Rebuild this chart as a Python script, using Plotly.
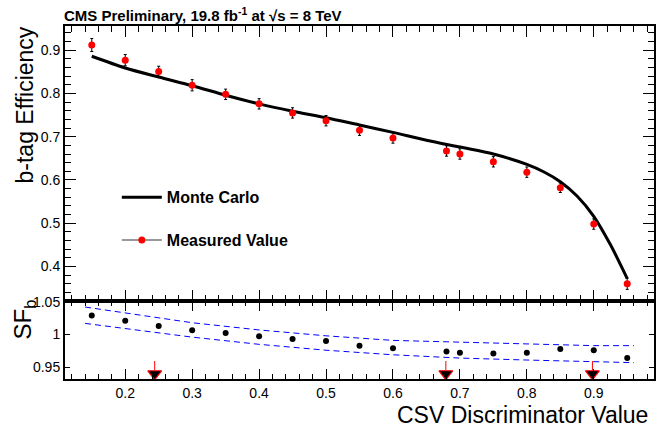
import plotly.graph_objects as go

# CSV discriminator working points where efficiency / scale factor were measured
csv_points = [0.15, 0.20, 0.25, 0.30, 0.35, 0.40, 0.45, 0.50, 0.55, 0.60,
              0.68, 0.70, 0.75, 0.80, 0.85, 0.90, 0.95]
eff_measured = [0.912, 0.877, 0.851, 0.819, 0.798, 0.776, 0.755, 0.737, 0.715,
                0.697, 0.667, 0.660, 0.642, 0.618, 0.582, 0.498, 0.360]
eff_err = [0.015, 0.013, 0.012, 0.013, 0.012, 0.012, 0.012, 0.012, 0.012,
           0.012, 0.012, 0.012, 0.012, 0.012, 0.011, 0.012, 0.013]

# Monte Carlo efficiency curve
mc_csv = [0.15, 0.20, 0.25, 0.30, 0.35, 0.40, 0.45, 0.50, 0.55, 0.60, 0.65,
          0.70, 0.75, 0.80, 0.825, 0.85, 0.875, 0.90, 0.925, 0.95]
mc_eff = [0.886, 0.859, 0.838, 0.818, 0.796, 0.776, 0.759, 0.744, 0.727, 0.710,
          0.692, 0.676, 0.660, 0.636, 0.619, 0.596, 0.563, 0.516, 0.450, 0.372]

# Data/MC scale factor SF_b
sf_b = [1.029, 1.021, 1.013, 1.0065, 1.0025, 0.9975, 0.993, 0.990, 0.983,
        0.979, 0.974, 0.972, 0.971, 0.972, 0.978, 0.976, 0.964]

# Uncertainty band on the SF fit
band_csv = [0.14, 0.20, 0.30, 0.40, 0.50, 0.60, 0.70, 0.80, 0.90, 0.96]
band_up = [1.042, 1.033, 1.018, 1.007, 0.998, 0.991, 0.988, 0.985, 0.983, 0.983]
band_dn = [1.017, 1.009, 0.996, 0.985, 0.976, 0.969, 0.964, 0.961, 0.958, 0.957]

# Standard operating points (loose / medium / tight)
op_points = [0.244, 0.679, 0.898]

x_ticks = [0.2, 0.3, 0.4, 0.5, 0.6, 0.7, 0.8, 0.9]
sf_ticks = [0.95, 1.0, 1.05]
sf_tick_text = ["0.95", "1", "1.05"]

FONT = "Liberation Sans, Arial, Helvetica, sans-serif"
X_RANGE = [0.11, 0.99]
SPLIT = 0.2196

fig = go.Figure()

# --- upper pad: efficiencies
fig.add_trace(go.Scatter(
    x=mc_csv, y=mc_eff, mode="lines",
    line=dict(color="black", width=3, shape="spline", smoothing=0.8),
    name="Monte Carlo", xaxis="x", yaxis="y", legendgroup="mc"))
fig.add_trace(go.Scatter(
    x=csv_points, y=eff_measured, mode="markers",
    marker=dict(color="red", size=7),
    error_y=dict(type="data", array=eff_err, color="black", thickness=1, width=1.5),
    showlegend=False, xaxis="x", yaxis="y"))
# legend entry for the measured points (line + marker style)
fig.add_trace(go.Scatter(
    x=[None], y=[None], mode="lines+markers",
    line=dict(color="#777777", width=1.5), marker=dict(color="red", size=7),
    name="Measured Value", xaxis="x", yaxis="y", legendgroup="data"))

# --- lower pad: scale factor
fig.add_trace(go.Scatter(
    x=band_csv, y=band_up, mode="lines",
    line=dict(color="blue", width=1, dash="6px,4px"),
    showlegend=False, xaxis="x2", yaxis="y2"))
fig.add_trace(go.Scatter(
    x=band_csv, y=band_dn, mode="lines",
    line=dict(color="blue", width=1, dash="6px,4px"),
    showlegend=False, xaxis="x2", yaxis="y2"))
fig.add_trace(go.Scatter(
    x=csv_points, y=sf_b, mode="markers", marker=dict(color="black", size=6),
    showlegend=False, xaxis="x2", yaxis="y2"))

# operating-point arrows: red stem + black triangle with red outline
ARROW_TOP, ARROW_BASE, ARROW_TIP = 0.9595, 0.9455, 0.9400
for xp in op_points:
    fig.add_trace(go.Scatter(
        x=[xp, xp], y=[ARROW_TOP, ARROW_BASE], mode="lines",
        line=dict(color="red", width=1), showlegend=False, hoverinfo="skip",
        xaxis="x2", yaxis="y2"))
fig.add_trace(go.Scatter(
    x=op_points, y=[ARROW_TIP] * len(op_points), mode="markers",
    marker=dict(symbol="triangle-down", size=12, color="black",
                line=dict(color="red", width=1.2)),
    showlegend=False, hoverinfo="skip", xaxis="x2", yaxis="y2", cliponaxis=False))

axis_common = dict(showgrid=False, zeroline=False, showline=True, linecolor="black",
                   linewidth=2, mirror="allticks", ticks="inside", tickcolor="black",
                   tickwidth=1, tickfont=dict(family=FONT, size=14, color="black"))

fig.update_layout(
    width=658, height=427,
    margin=dict(l=65, r=2, t=26, b=48),
    paper_bgcolor="white", plot_bgcolor="white",
    font=dict(family=FONT, color="black"),
    xaxis=dict(domain=[0, 1], range=X_RANGE, anchor="y", tickvals=x_ticks,
               showticklabels=False, ticklen=11,
               minor=dict(dtick=0.02, tick0=0, ticklen=6, ticks="inside",
                          tickcolor="black", tickwidth=1),
               **axis_common),
    yaxis=dict(domain=[SPLIT, 1], range=[0.319, 0.956], anchor="x", dtick=0.1, tick0=0,
               ticklen=11,
               minor=dict(dtick=0.02, tick0=0, ticklen=6, ticks="inside",
                          tickcolor="black", tickwidth=1),
               **axis_common),
    xaxis2=dict(domain=[0, 1], range=X_RANGE, anchor="y2", matches="x", tickvals=x_ticks,
                ticklen=10,
                minor=dict(dtick=0.02, tick0=0, ticklen=5, ticks="inside",
                           tickcolor="black", tickwidth=1),
                **axis_common),
    yaxis2=dict(domain=[0, SPLIT], range=[0.932, 1.0505], anchor="x2",
                tickvals=sf_ticks, ticktext=sf_tick_text, ticklen=5,
                **axis_common),
    legend=dict(x=0.088, y=0.563, xanchor="left", yanchor="top",
                bgcolor="rgba(0,0,0,0)", borderwidth=0,
                font=dict(family=FONT, size=16, color="black", weight="bold"),
                tracegroupgap=19, itemwidth=40),
    showlegend=True,
    annotations=[
        dict(text="CMS Preliminary, 19.8 fb<sup>-1</sup> at √s = 8 TeV",
             xref="paper", yref="paper", x=0, y=1, xanchor="left", yanchor="bottom",
             xshift=-3, yshift=0, showarrow=False,
             font=dict(family=FONT, size=15, color="black", weight="bold")),
        dict(text="b-tag Efficiency", xref="paper", yref="paper", x=0, y=1,
             xanchor="center", yanchor="top", xshift=-41, yshift=1, textangle=-90,
             showarrow=False, font=dict(family=FONT, size=23, color="black")),
        dict(text="SF<sub>b</sub>", xref="paper", yref="paper", x=0, y=SPLIT,
             xanchor="center", yanchor="top", xshift=-41, yshift=4, textangle=-90,
             showarrow=False, font=dict(family=FONT, size=24, color="black")),
        dict(text="CSV Discriminator Value", xref="paper", yref="paper", x=1, y=0,
             xanchor="right", yanchor="top", xshift=-4, yshift=-21,
             showarrow=False, font=dict(family=FONT, size=23, color="black")),
    ],
)

fig.write_html("out.html")
